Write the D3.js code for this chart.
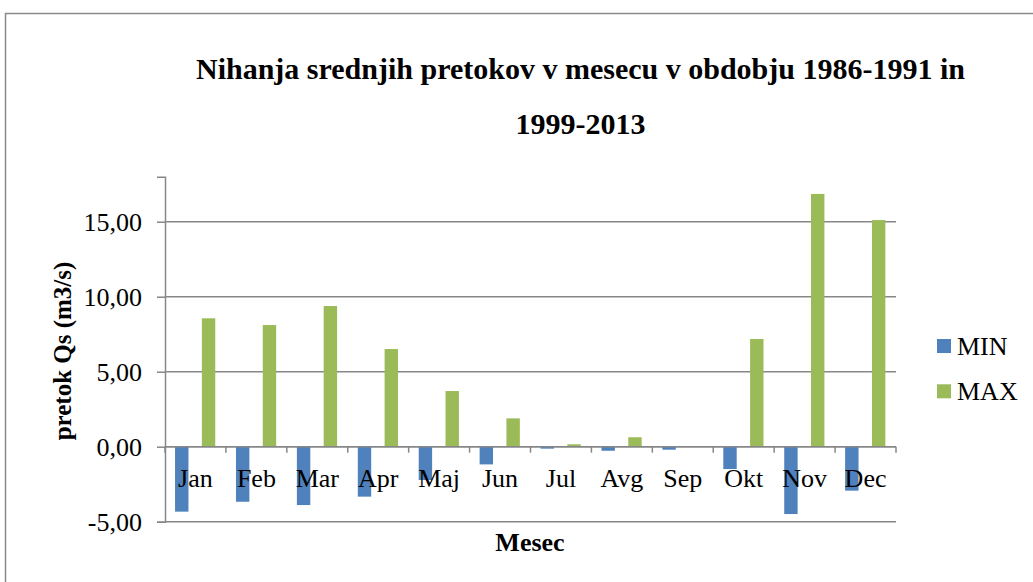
<!DOCTYPE html>
<html><head><meta charset="utf-8">
<script src="https://cdn.jsdelivr.net/npm/d3@7"></script>
<style>body{margin:0;background:#fff}svg{display:block}</style>
</head><body><svg id="c" width="1033" height="582"></svg>
<script>
const months = ["Jan","Feb","Mar","Apr","Maj","Jun","Jul","Avg","Sep","Okt","Nov","Dec"];
const minValues = [-4.33,-3.67,-3.89,-3.33,-2.22,-1.18,-0.13,-0.27,-0.20,-1.49,-4.49,-2.93];
const maxValues = [8.56,8.11,9.38,6.51,3.71,1.89,0.16,0.63,0.02,7.18,16.85,15.11];
const yTicks = [-5,0,5,10,15];
const seriesNames = ["MIN","MAX"];
const colors = ["#4F81BD","#9BBB59"];
const FONT = "'Liberation Serif','Times New Roman',Times,serif";

const svg = d3.select("#c").attr("font-family",FONT);
// outer frame
svg.append("rect").attr("x",5.5).attr("y",13.5).attr("width",1040).attr("height",580)
  .attr("fill","none").attr("stroke","#8a8a8a").attr("stroke-width",1.5);

const L=165, R=896;
const x = d3.scaleBand().domain(months).range([L,R]).paddingInner(0).paddingOuter(0);
const y = d3.scaleLinear().domain([-5,18]).range([521.7,176.7]);

// gridlines
svg.append("g").selectAll("line").data(yTicks).join("line")
  .attr("x1",L).attr("x2",R).attr("y1",d=>y(d)).attr("y2",d=>y(d))
  .attr("stroke","#878787").attr("stroke-width",1.5);

// bars
const bw = x.bandwidth()*0.22;
const offs = [0.165,0.605];
[minValues,maxValues].forEach((vals,si)=>{
  svg.append("g").selectAll("rect").data(vals).join("rect")
    .attr("x",(d,i)=>x(months[i])+x.bandwidth()*offs[si])
    .attr("width",bw)
    .attr("y",d=>y(Math.max(0,d)))
    .attr("height",d=>Math.abs(y(d)-y(0)))
    .attr("fill",colors[si]);
});

// y axis
const yAxis = d3.axisLeft(y).tickValues(yTicks).tickSize(8).tickPadding(15)
  .tickFormat(d=>d3.format(".2f")(d).replace(".",",").replace("−","-"));
const ga = svg.append("g").attr("transform",`translate(${L},0)`).call(yAxis);
ga.attr("font-family",FONT);
ga.select(".domain").attr("stroke","#878787").attr("stroke-width",1.5);
ga.selectAll(".tick line").attr("stroke","#878787").attr("stroke-width",1.5);
ga.selectAll(".tick text").attr("font-size",26).attr("fill","#000")
  .attr("font-family",FONT);

// x axis at zero
const xa = svg.append("g").attr("transform",`translate(0,${y(0)})`);
xa.append("line").attr("x1",L).attr("x2",R).attr("stroke","#878787").attr("stroke-width",1.5);
const bounds = months.map(m=>x(m)).concat([R]);
xa.selectAll("line.t").data(bounds).join("line").attr("class","t")
  .attr("x1",d=>d).attr("x2",d=>d).attr("y1",0).attr("y2",6)
  .attr("stroke","#878787").attr("stroke-width",1.5);
xa.selectAll("text").data(months).join("text")
  .attr("x",d=>x(d)+x.bandwidth()/2).attr("y",40)
  .attr("text-anchor","middle").attr("font-size",26).attr("font-family",FONT).attr("fill","#000").text(d=>d);

// titles
svg.append("text").attr("x",580.5).attr("y",78.5).attr("text-anchor","middle").attr("font-family",FONT)
  .attr("font-size",30).attr("font-weight","bold").text("Nihanja srednjih pretokov v mesecu v obdobju 1986-1991 in");
svg.append("text").attr("x",580.5).attr("y",134).attr("text-anchor","middle").attr("font-family",FONT)
  .attr("font-size",30).attr("font-weight","bold").text("1999-2013");
svg.append("text").attr("x",530).attr("y",551).attr("text-anchor","middle").attr("font-family",FONT)
  .attr("font-size",26).attr("font-weight","bold").text("Mesec");
svg.append("text").attr("transform","translate(71,351) rotate(-90)").attr("text-anchor","middle").attr("font-family",FONT)
  .attr("font-size",25).attr("font-weight","bold").text("pretok Qs (m3/s)");

// legend
const lg = svg.append("g");
seriesNames.forEach((n,i)=>{
  const yy = 339 + i*45.3;
  lg.append("rect").attr("x",937).attr("y",yy).attr("width",14).attr("height",14).attr("fill",colors[i]);
  lg.append("text").attr("x",957).attr("y",yy+16).attr("font-size",26).attr("font-family",FONT).text(n);
});
</script></body></html>
